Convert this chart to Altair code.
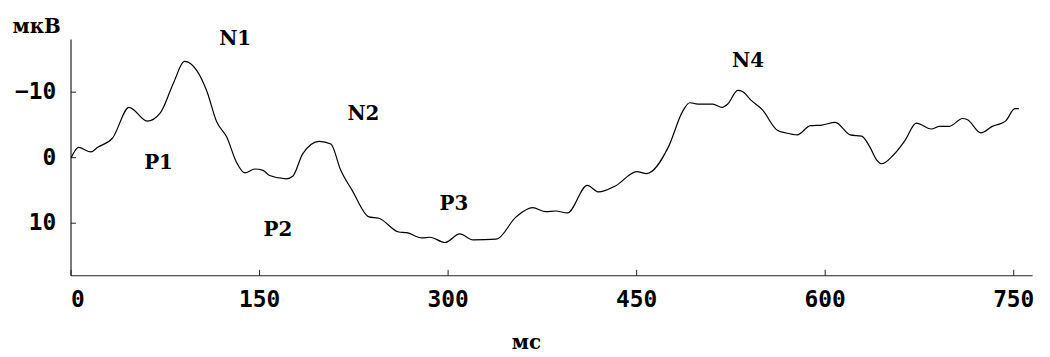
import altair as alt
import pandas as pd

# ERP waveform (time in ms, amplitude in µV; negative is up)
time_ms = [0.5, 6.3, 16.3, 21.6, 33.4, 46.6, 61.0, 71.6, 82.1, 90.6, 100.5, 108.4,
           116.3, 124.2, 132.1, 138.7, 146.6, 153.2, 158.4, 171.6, 176.8, 184.7,
           197.9, 207.1, 215.0, 224.2, 237.4, 245.3, 261.1, 267.6, 279.5, 286.0,
           297.9, 309.7, 320.3, 338.7, 354.5, 367.6, 378.2, 386.1, 395.3, 411.1,
           420.2, 433.4, 450.5, 458.4, 475.5, 487.3, 492.6, 499.2, 511.0, 518.4,
           522.9, 530.8, 534.7, 541.3, 550.5, 562.3, 569.0, 578.1, 588.7, 597.9,
           608.4, 620.3, 629.4, 636.1, 641.3, 645.3, 654.5, 663.7, 672.9, 684.7,
           691.4, 699.2, 709.7, 713.7, 724.2, 733.4, 743.9, 751.3, 754.5]
amp_uv = [0.1, -1.5, -0.8, -1.5, -2.9, -7.6, -5.5, -6.8, -11.4, -14.6, -13.2, -10.1,
          -5.4, -3.1, 0.8, 2.4, 1.8, 2.0, 2.8, 3.3, 2.9, -0.5,
          -2.4, -2.0, 2.0, 5.1, 9.1, 9.3, 11.4, 11.5, 12.3, 12.2,
          13.0, 11.7, 12.6, 12.5, 9.1, 7.7, 8.3, 8.2, 8.5, 4.3,
          5.3, 4.4, 2.2, 2.5, -1.5, -7.1, -8.3, -8.1, -8.1, -7.6,
          -8.1, -10.2, -10.0, -8.7, -7.2, -4.1, -3.7, -3.4, -4.8, -4.9,
          -5.3, -3.4, -3.2, -1.5, 0.4, 1.0, -0.3, -2.5, -5.2, -4.3,
          -4.7, -4.7, -5.9, -5.7, -3.7, -4.7, -5.5, -7.4, -7.4]

# Component labels
label_text = ["N1", "P1", "N2", "P2", "P3", "N4"]
label_x = [131, 70, 233, 165, 305, 539]
label_y = [-18.0, 0.9, -6.6, 11.1, 7.1, -14.6]

x_ticks = [0, 150, 300, 450, 600, 750]
y_ticks = [-10, 0, 10]

NUM_FONT = "DejaVu Sans Mono"
NUM_FS = 23
TXT_FONT = "DejaVu Serif"
TXT_FS = 20
W, H = 969, 238

wave = pd.DataFrame({"t": time_ms, "v": amp_uv})
labels = pd.DataFrame({"x": label_x, "y": label_y, "label": label_text})

xs = alt.Scale(domain=[0, 765], nice=False, zero=False)
ys = alt.Scale(domain=[-18, 18], reverse=True, nice=False, zero=False)

line = alt.Chart(wave).mark_line(
    color="black", strokeWidth=1.2, interpolate="monotone"
).encode(
    x=alt.X("t:Q", scale=xs, title="мс", axis=alt.Axis(
        orient="bottom", values=x_ticks, ticks=False, grid=False,
        domainColor="#222", domainWidth=1.2,
        labelFont=NUM_FONT, labelFontWeight="bold", labelFontSize=NUM_FS,
        labelColor="black", labelPadding=13,
        titleFont=TXT_FONT, titleFontWeight="bold", titleFontSize=TXT_FS,
        titleColor="black", titleX=459, titleY=68,
        titleAlign="center", titleBaseline="middle")),
    y=alt.Y("v:Q", scale=ys, title="мкВ", axis=alt.Axis(
        orient="left", values=y_ticks, ticks=False, grid=False,
        domainColor="#222", domainWidth=1.2,
        labelFont=NUM_FONT, labelFontWeight="bold", labelFontSize=NUM_FS,
        labelColor="black", labelPadding=15,
        titleFont=TXT_FONT, titleFontWeight="bold", titleFontSize=TXT_FS,
        titleColor="black", titleAngle=0, titleX=-59, titleY=-13,
        titleAlign="left", titleBaseline="middle")),
)

text = alt.Chart(labels).mark_text(
    font=TXT_FONT, fontWeight="bold", fontSize=TXT_FS, color="black"
).encode(
    x=alt.X("x:Q", scale=xs, title="", axis=alt.Axis(
        orient="top", offset=-H, values=x_ticks, labels=False, domain=False,
        ticks=True, tickSize=6, tickColor="#222", grid=False)),
    y=alt.Y("y:Q", scale=ys, title="", axis=alt.Axis(
        orient="right", offset=-W, values=y_ticks, labels=False, domain=False,
        ticks=True, tickSize=5, tickColor="#222", grid=False)),
    text="label:N",
)

chart = alt.layer(line, text).properties(
    width=W, height=H,
    autosize=alt.AutoSizeParams(type="none"),
    padding={"left": 63, "top": 30, "right": 10, "bottom": 81},
    background="white",
).configure_view(stroke=None)

chart.save("out.html", embed_options={"renderer": "svg", "actions": False})
